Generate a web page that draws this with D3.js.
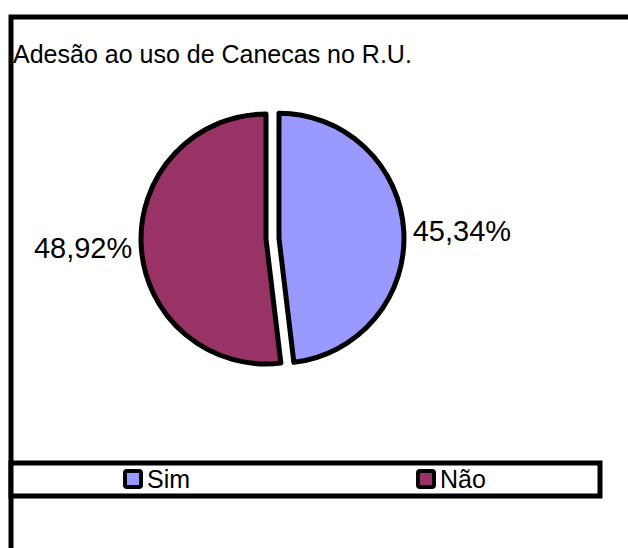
<!DOCTYPE html>
<html>
<head>
<meta charset="utf-8">
<script src="https://cdn.jsdelivr.net/npm/d3@7"></script>
<style>
  body { margin: 0; background: #fff; }
  text { font-family: "Liberation Sans", Arial, sans-serif; fill: #000; }
</style>
</head>
<body>
<div id="chart"></div>
<script>
// chart data
var categories = ['Sim', 'Não'];
var values = [45.34, 48.92];
var colors = ['#9999FF', '#993366'];
var explode = [13, 0];
var title = 'Adesão ao uso de Canecas no R.U.';

var width = 628,
    height = 548;

var ptBR = d3.formatLocale({ decimal: ',', thousands: '.', grouping: [3], currency: ['R$', ''] });
var fmt = ptBR.format('.2f');

var svg = d3.select('#chart')
    .append('svg')
    .attr('width', width)
    .attr('height', height);

// outer frame (runs off the right and bottom edge)
svg.append('rect')
    .attr('x', 11)
    .attr('y', 17)
    .attr('width', 700)
    .attr('height', 700)
    .attr('fill', 'none')
    .attr('stroke', '#000')
    .attr('stroke-width', 5);

svg.append('text')
    .attr('x', 13)
    .attr('y', 63)
    .style('font-size', '25px')
    .text(title);

var cx = 266,
    cy = 239,
    radius = 125;

var pie = d3.pie()
    .value(function(d) { return d; })
    .sort(null);

var arc = d3.arc()
    .innerRadius(0)
    .outerRadius(radius);

var labelArc = d3.arc()
    .innerRadius(radius + 9)
    .outerRadius(radius + 9);

var slices = svg.append('g')
    .attr('transform', 'translate(' + cx + ',' + cy + ')')
    .selectAll('g.slice')
    .data(pie(values))
    .enter()
    .append('g')
    .attr('class', 'slice')
    .attr('transform', function(d, i) {
        var a = (d.startAngle + d.endAngle) / 2;
        return 'translate(' + (Math.sin(a) * explode[i]) + ',' + (-Math.cos(a) * explode[i]) + ')';
    });

slices.append('path')
    .attr('d', arc)
    .attr('fill', function(d, i) { return colors[i]; })
    .attr('stroke', '#000')
    .attr('stroke-width', 5)
    .attr('stroke-linejoin', 'round');

slices.append('text')
    .attr('transform', function(d) {
        var c = labelArc.centroid(d);
        return 'translate(' + c[0] + ',' + c[1] + ')';
    })
    .attr('dy', '0.38em')
    .attr('text-anchor', function(d) {
        return (d.startAngle + d.endAngle) / 2 < Math.PI ? 'start' : 'end';
    })
    .style('font-size', '29px')
    .text(function(d) { return fmt(d.data) + '%'; });

// legend
svg.append('rect')
    .attr('x', 11)
    .attr('y', 463)
    .attr('width', 589)
    .attr('height', 33)
    .attr('fill', '#fff')
    .attr('stroke', '#000')
    .attr('stroke-width', 5);

var legendX = d3.scalePoint()
    .domain(categories)
    .range([125, 418]);

var legend = svg.selectAll('.legend')
    .data(categories)
    .enter()
    .append('g')
    .attr('class', 'legend')
    .attr('transform', function(d) {
        return 'translate(' + legendX(d) + ',' + 471 + ')';
    });

legend.append('rect')
    .attr('width', 16)
    .attr('height', 16)
    .attr('rx', 2)
    .attr('fill', function(d, i) { return colors[i]; })
    .attr('stroke', '#000')
    .attr('stroke-width', 4);

legend.append('text')
    .attr('x', 22)
    .attr('y', 17)
    .style('font-size', '25px')
    .text(function(d) { return d; });
</script>
</body>
</html>
